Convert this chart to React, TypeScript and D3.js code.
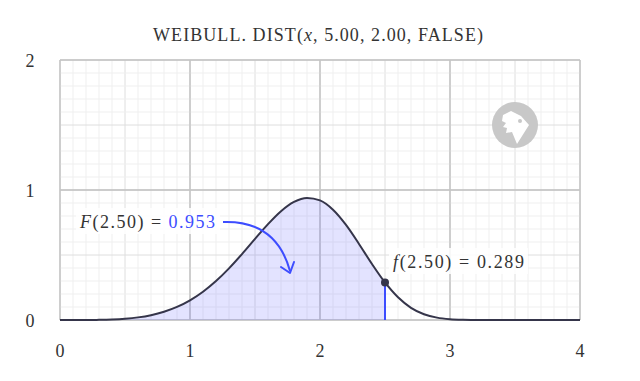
import React from "react";
import * as d3 from "d3";

const title = "WEIBULL. DIST(";
const xTicks = [0, 1, 2, 3, 4];
const yTicks = [0, 1, 2];
const xs = [0, 0.1, 0.2, 0.3, 0.4, 0.5, 0.6, 0.7, 0.8, 0.9, 1.0, 1.1, 1.2, 1.3, 1.4, 1.5, 1.6, 1.7, 1.8, 1.9, 2.0, 2.1, 2.2, 2.3, 2.4, 2.5, 2.6, 2.7, 2.8, 2.9, 3.0, 3.1, 3.2, 3.3, 3.4, 3.6, 3.8, 4.0];
const pdf = [0, 0.00002, 0.00025, 0.00127, 0.0040, 0.00976, 0.0202, 0.0373, 0.0634, 0.1006, 0.1514, 0.2175, 0.2998, 0.3974, 0.5074, 0.6239, 0.7379, 0.8374, 0.9088, 0.9392, 0.9197, 0.8480, 0.7312, 0.5851, 0.4305, 0.2886, 0.1743, 0.0938, 0.0443, 0.0182, 0.0064, 0.0019, 0.0005, 0.0001, 0, 0, 0, 0];
const xMark = 2.5;
const fMark = 0.289;
const FMark = 0.953;

const W = 640, H = 381;
const M = { left: 60, right: 580, top: 60, bottom: 320 };

export default function App() {
  const x = d3.scaleLinear().domain([0, 4]).range([M.left, M.right]);
  const y = d3.scaleLinear().domain([0, 2]).range([M.bottom, M.top]);
  const pts = xs.map((v, i) => [v, pdf[i]] as [number, number]);
  const line = d3.line<[number, number]>().x(d => x(d[0])).y(d => y(d[1])).curve(d3.curveMonotoneX);
  const area = d3.area<[number, number]>().x(d => x(d[0])).y0(y(0)).y1(d => y(d[1])).curve(d3.curveMonotoneX);
  const fillPts = pts.filter(p => p[0] <= xMark);
  const minor = d3.range(0, 41).map(i => i / 10);
  const minorY = d3.range(0, 21).map(i => i / 10);
  const font = "'Liberation Serif', 'DejaVu Serif', serif";
  const blue = "#3d4dff";
  const gridColor = (v: number) => {
    const r = Math.round(v * 10) % 10;
    if (r === 0) return "#c4c4c4";
    if (r === 5) return "#dedede";
    return "#efefef";
  };
  const ax = x(xMark), ay = y(fMark);
  return (
    <svg width={W} height={H} style={{ position: "absolute", left: 0, top: 0 }} fontFamily={font}>
      <rect width={W} height={H} fill="#fff" />
      {minor.map((v, i) => (
        <line key={"vx" + i} x1={x(v)} x2={x(v)} y1={M.top} y2={M.bottom} stroke={gridColor(v)} strokeWidth={1} />
      ))}
      {minorY.map((v, i) => (
        <line key={"hy" + i} x1={M.left} x2={M.right} y1={y(v)} y2={y(v)} stroke={gridColor(v)} strokeWidth={1} />
      ))}
      {xTicks.map(v => (
        <line key={"mx" + v} x1={x(v)} x2={x(v)} y1={M.top} y2={M.bottom} stroke="#c4c4c4" strokeWidth={1.3} />
      ))}
      {yTicks.map(v => (
        <line key={"my" + v} x1={M.left} x2={M.right} y1={y(v)} y2={y(v)} stroke="#c4c4c4" strokeWidth={1.3} />
      ))}
      {/* watermark */}
      <g transform="translate(515,125)">
        <circle r={23} fill="#c8c8c8" />
        <path d="M-12,-10 L-4,-14 L6,-9 L14,0 L2,19 L-3,7 L-9,8 L-8,3 L-12,2 L-9,-2 L-13,-4 Z" fill="#fff" />
        <circle cx={5} cy={-4} r={2} fill="#c8c8c8" />
      </g>
      <path d={area(fillPts) || ""} fill="#5a5aff" fillOpacity={0.17} />
      <line x1={ax} x2={ax} y1={y(0)} y2={ay} stroke={blue} strokeWidth={2} />
      <path d={line(pts) || ""} fill="none" stroke="#35354a" strokeWidth={2} />
      <circle cx={ax} cy={ay} r={4} fill="#35354a" />
      {/* labels */}
      <text x={153} y={41} fontSize={18} fill="#333" textLength={330} lengthAdjust="spacing">
        {title}<tspan fontStyle="italic">x</tspan>{", 5.00, 2.00, FALSE)"}
      </text>
      {yTicks.map(v => (
        <text key={"yl" + v} x={30} y={y(v) + 7} textAnchor="middle" fontSize={18} fill="#333">{v}</text>
      ))}
      {xTicks.map(v => (
        <text key={"xl" + v} x={x(v)} y={357} textAnchor="middle" fontSize={18} fill="#333">{v}</text>
      ))}
      <rect x={76} y={208} width={144} height={26} fill="#fff" fillOpacity={0.85} />
      <text x={80} y={228} fontSize={18} fill="#333" textLength={135} lengthAdjust="spacing">
        <tspan fontStyle="italic">F</tspan>{"(2.50) = "}<tspan fill={blue}>{FMark.toFixed(3)}</tspan>
      </text>
      <rect x={389} y={248} width={139} height={26} fill="#fff" fillOpacity={0.85} />
      <text x={393} y={268} fontSize={18} fill="#333" textLength={131} lengthAdjust="spacing">
        <tspan fontStyle="italic">f</tspan>{"(2.50) = " + fMark.toFixed(3)}
      </text>
      <path d="M223,222 Q276,220 290,271" fill="none" stroke={blue} strokeWidth={2} />
      <path d="M281,267 L290,273 L294,262" fill="none" stroke={blue} strokeWidth={2} strokeLinejoin="round" strokeLinecap="round" />
    </svg>
  );
}
